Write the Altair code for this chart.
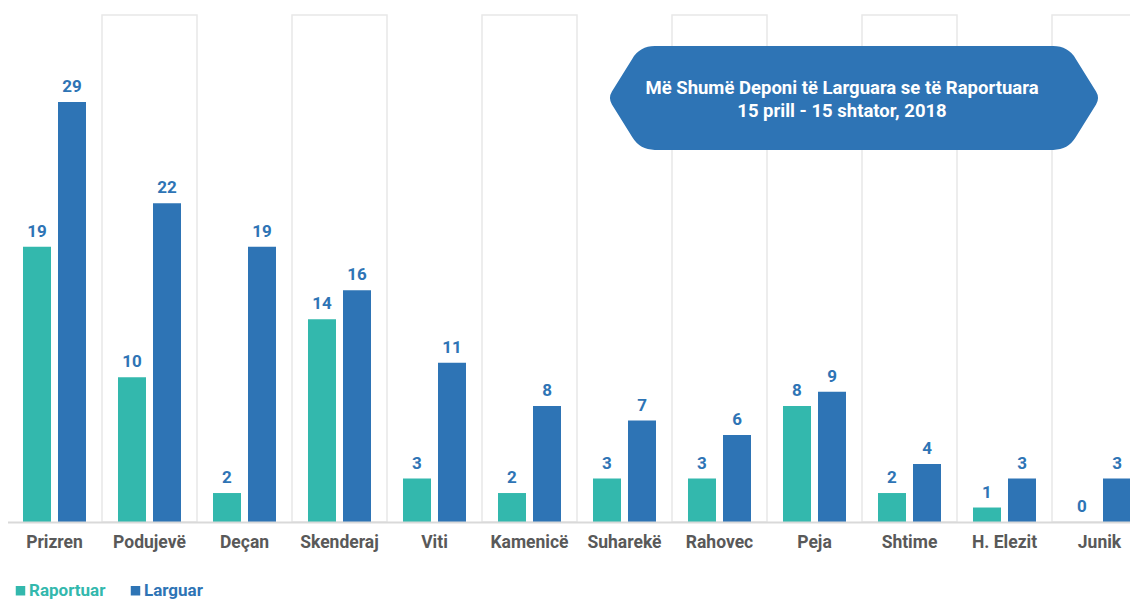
import altair as alt
import pandas as pd

categories = ["Prizren", "Podujevë", "Deçan", "Skenderaj", "Viti", "Kamenicë",
              "Suharekë", "Rahovec", "Peja", "Shtime", "H. Elezit", "Junik"]
raportuar = [19, 10, 2, 14, 3, 2, 3, 3, 8, 2, 1, 0]
larguar = [29, 22, 19, 16, 11, 8, 7, 6, 9, 4, 3, 3]
series = ["Raportuar", "Larguar"]
colors = ["#33B8AD", "#2E74B5"]
title_lines = ["Më Shumë Deponi të Larguara se të Raportuara", "15 prill - 15 shtator, 2018"]
y_max = 35

rows = []
for i, c in enumerate(categories):
    rows.append({"cat": c, "series": "Raportuar", "value": raportuar[i]})
    rows.append({"cat": c, "series": "Larguar", "value": larguar[i]})
df = pd.DataFrame(rows)

boxes = pd.DataFrame({"cat": [c for i, c in enumerate(categories) if i % 2 == 1]})
boxes["top"] = y_max
boxes["bottom"] = 0

FONT = "Roboto"
W = 1122
H = 507

x_enc = alt.X("cat:N", sort=categories, title=None,
              scale=alt.Scale(paddingInner=0, paddingOuter=0, range=[-1, 1139]),
              axis=alt.Axis(labelAngle=0, labelFontSize=17.5, labelFontWeight="bold",
                            labelColor="#595959", ticks=False, domainColor="#D9D9D9",
                            domainWidth=2, labelPadding=11, labelFont=FONT))
y_scale = alt.Scale(domain=[0, y_max], nice=False)
xo_scale = alt.Scale(paddingInner=0.2, paddingOuter=0.457)

box_layer = alt.Chart(boxes).mark_rect(fillOpacity=0, stroke="#E8E8E8", strokeWidth=1.5).encode(
    x=x_enc,
    y=alt.Y("top:Q", scale=y_scale, axis=None),
    y2="bottom:Q",
)

bars = alt.Chart(df).mark_bar().encode(
    x=x_enc,
    xOffset=alt.XOffset("series:N", sort=series, scale=xo_scale),
    y=alt.Y("value:Q", scale=y_scale, axis=None),
    color=alt.Color("series:N", sort=series,
                    scale=alt.Scale(domain=series, range=colors),
                    legend=alt.Legend(
                        title=None, orient="none", legendX=4, legendY=567,
                        direction="horizontal", symbolType="square", symbolSize=90,
                        symbolStrokeWidth=0, padding=0,
                        labelFontSize=17, labelFontWeight="bold", labelFont=FONT,
                        labelOffset=0, columnPadding=21,
                        labelColor=alt.ExprRef(
                            "datum.label == 'Raportuar' ? '#33B8AD' : '#2E74B5'"))),
)

labels = alt.Chart(df).mark_text(
    baseline="bottom", dy=-6, fontSize=17, fontWeight="bold", color="#2E74B5", font=FONT
).encode(
    x=x_enc,
    xOffset=alt.XOffset("series:N", sort=series, scale=xo_scale),
    y=alt.Y("value:Q", scale=y_scale, axis=None),
    text="value:Q",
)

banner_path = ("M -0.81 -0.211 L 0.81 -0.211 Q 0.87 -0.211 0.901 -0.160 L 0.984 -0.026 "
               "Q 1 0 0.984 0.026 L 0.901 0.160 Q 0.87 0.211 0.81 0.211 L -0.81 0.211 "
               "Q -0.87 0.211 -0.901 0.160 L -0.984 0.026 Q -1 0 -0.984 -0.026 "
               "L -0.901 -0.160 Q -0.87 -0.211 -0.81 -0.211 Z")
one = pd.DataFrame({"k": [0]})
banner = alt.Chart(one).mark_point(
    shape=banner_path, filled=True, fill="#2E74B5", opacity=1, strokeWidth=0, size=492 * 492
).encode(x=alt.value(846), y=alt.value(83))

banner_text = alt.Chart(one).mark_text(
    color="white", fontSize=18.5, fontWeight="bold", font=FONT, lineHeight=23,
    baseline="middle", align="center"
).encode(x=alt.value(834), y=alt.value(73), text=alt.value(title_lines))

chart = alt.layer(box_layer, bars, labels, banner, banner_text).properties(
    width=W, height=H,
    padding={"left": 0, "top": 7, "right": 0, "bottom": 78},
    autosize=alt.AutoSizeParams(type="none"),
).configure(font=FONT).configure_view(strokeWidth=0, stroke="transparent")

chart.save("out.html", embed_options={"renderer": "svg", "actions": False})
